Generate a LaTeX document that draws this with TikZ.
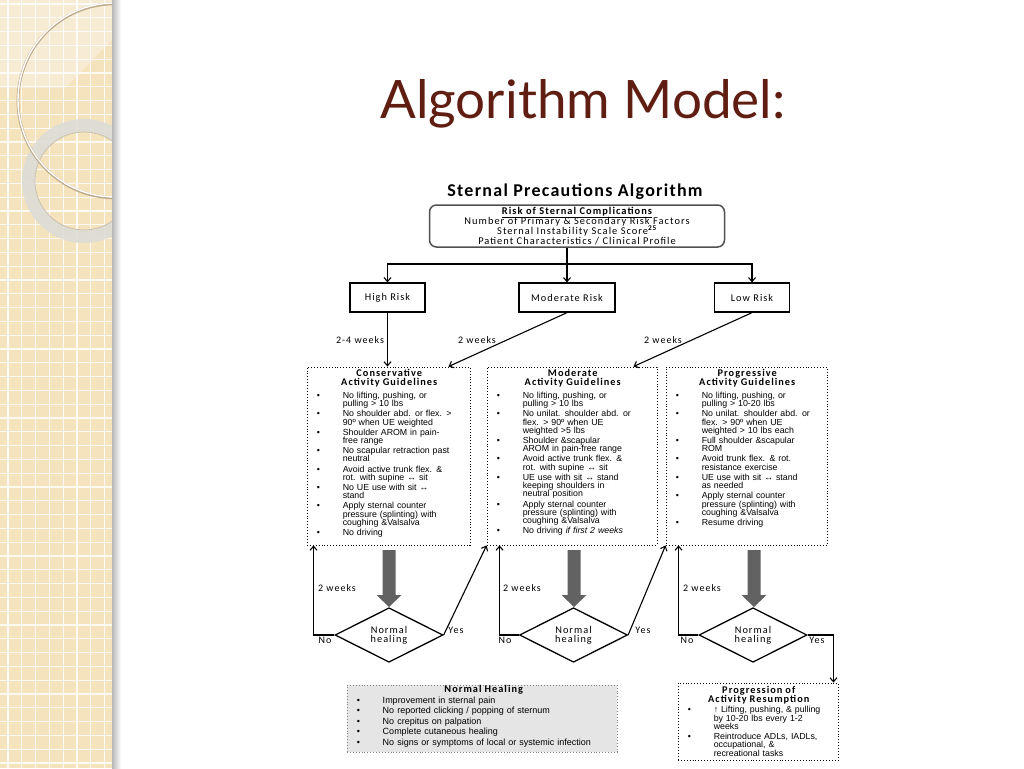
\documentclass[tikz,border=0pt]{standalone}
\usepackage{fontspec}
\setmainfont{Liberation Sans}
\newfontfamily\calf[LetterSpace=10]{Carlito}
\newfontfamily\subf[LetterSpace=7]{Carlito}
\newfontfamily\titlef{Lato}
\usetikzlibrary{shapes.geometric,arrows.meta,calc}
\definecolor{maroon}{RGB}{96,30,18}
\definecolor{strip}{RGB}{244,227,188}
\definecolor{garr}{RGB}{98,98,98}
\definecolor{topborder}{RGB}{80,80,80}
\definecolor{ringtan}{RGB}{190,168,136}
\definecolor{ringgray}{RGB}{222,220,214}
\definecolor{ringedge}{RGB}{200,190,170}
\definecolor{nhborder}{RGB}{130,130,130}
\definecolor{nhfill}{RGB}{229,229,229}
\newcommand\gfont{\fontsize{8.8}{8.3}\selectfont\lineskiplimit=-20pt\relax}
\newcommand\topfont{\calf\fontsize{10.4}{10.1}\selectfont\lineskiplimit=-20pt\relax}
\newcommand\gi[1]{{\let\\\newline\hangindent=30pt\hangafter=1\noindent\makebox[30pt][l]{\hspace{4pt}\textbullet}#1\par}\vspace{1.8pt}}
\newcommand\gtitle[1]{{\centering\calf\bfseries\fontsize{10.3}{9}\selectfont #1\par}\vspace{4.2pt}}
\newcommand\garrow[1]{\fill[garr] (#1-6.5,550) -- (#1+6.5,550) -- (#1+6.5,595) -- (#1+12.5,595) -- (#1,607) -- (#1-12.5,595) -- (#1-6.5,595) -- cycle;}
\tikzset{
  arr/.style={-{Straight Barb[length=4pt,width=7pt]}, line width=1.1pt},
  rbox/.style={draw, line width=1.3pt, minimum width=75pt, minimum height=29pt, inner sep=0pt, font=\calf\fontsize{10.3}{12}\selectfont},
  gbox/.style={draw, dotted, line width=0.9pt, inner sep=0pt},
  gtext/.style={anchor=north west, inner sep=0pt, font=\gfont},
  lab/.style={font=\calf\fontsize{10}{11}\selectfont, inner sep=0pt},
  dia/.style={diamond, draw, line width=1.3pt, inner sep=0pt, minimum width=108pt, minimum height=50pt, align=center, font=\calf\fontsize{10.3}{9}\selectfont},
}
\begin{document}
\begin{tikzpicture}[x=1pt,y=-1pt]
\useasboundingbox (0,0) rectangle (1024,768);
\fill[white] (0,0) rectangle (1024,768);
% left decorative strip
\begin{scope}
\clip (0,0) rectangle (112,768);
\fill[strip] (0,0) rectangle (112,768);
\foreach \i in {0,...,8} {\draw[white, line width=1.3pt, opacity=0.85] (8+13.8*\i,0) -- (8+13.8*\i,768);}
\foreach \j in {0,...,56} {\draw[white, line width=1.3pt, opacity=0.85] (0,4+13.8*\j) -- (112,4+13.8*\j);}
\fill[white, opacity=0.35] (0,0) -- (112,0) -- (112,40) -- (65,88) -- (0,88) -- cycle;
\draw[line width=13pt, ringgray, opacity=0.93] (84,181) circle (55.5);
\draw[line width=0.7pt, ringedge] (84,181) circle (49);
\draw[line width=2.8pt, ringtan] (115,100.8) circle (97);
\draw[line width=1.4pt, white] (115,100) circle (97);
\end{scope}
\shade[left color=black!28, right color=white] (112,0) rectangle (121,768);
% title
\node[font=\titlef\fontsize{53}{60}\selectfont, text=maroon, anchor=base, inner sep=0pt] (title) at (583,118) {Algorithm Model:};
\node[font=\subf\bfseries\fontsize{18}{20}\selectfont, anchor=base, inner sep=0pt] (sub) at (575,196) {Sternal Precautions Algorithm};
% top box
\node[draw=topborder, line width=1.5pt, rounded corners=7pt, minimum width=295pt, minimum height=42pt, inner sep=0pt, align=center, font=\topfont] (top) at (577,226)
 {\textbf{\underline{Risk of Sternal Complications}}\\Number of Primary \& Secondary Risk Factors\\Sternal Instability Scale Score\textsuperscript{\bfseries 25}\\Patient Characteristics / Clinical Profile};
% risk boxes
\node[rbox] (high) at (387.5,297.5) {High Risk};
\node[rbox, minimum width=96pt] (modr) at (567,297.5) {Moderate Risk};
\node[rbox] (low) at (752,297.5) {Low Risk};
\coordinate (bus) at (567,264);
\draw[arr] (top.south -| modr.north) -- (modr.north);
\draw[arr] (bus) -| (high.north);
\draw[arr] (bus) -| (low.north);
% guideline boxes
\node[gbox, minimum width=163pt, minimum height=178pt] (cons) at (388.5,456) {};
\node[gbox, minimum width=170pt, minimum height=178pt] (mod) at (572,456) {};
\node[gbox, minimum width=161pt, minimum height=178pt] (prog) at (746.5,456) {};
\coordinate (c1) at ($(cons.north east)+(-22,0)$);
\coordinate (c2) at ($(mod.north east)+(-24,0)$);
\draw[arr] (high.south) -- (high.south |- cons.north);
\draw[arr] (modr.south) -- (c1);
\draw[arr] (low.south) -- (c2);
\node[lab] (l1) at (360,340) {2-4 weeks};
\node[lab] (l2) at (477,340) {2 weeks};
\node[lab] (l3) at (663,340) {2 weeks};
% guideline texts
\node[gtext, text width=153pt] (cons-t) at ($(cons.north west)+(6,3)$) {\raggedright
\gtitle{Conservative\\Activity Guidelines}
\gi{No lifting, pushing, or\\pulling {>} 10 lbs}
\gi{No shoulder abd. or flex. {>}\\90º when UE weighted}
\gi{Shoulder AROM in pain-\\free range}
\gi{No scapular retraction past\\neutral}
\gi{Avoid active trunk flex. \&\\rot. with supine ↔ sit}
\gi{No UE use with sit ↔\\stand}
\gi{Apply sternal counter\\pressure (splinting) with\\coughing \&Valsalva}
\gi{No driving}};
\node[gtext, text width=160pt] (mod-t) at ($(mod.north west)+(6,3)$) {\raggedright
\gtitle{Moderate\\Activity Guidelines}
\gi{No lifting, pushing, or\\pulling {>} 10 lbs}
\gi{No unilat. shoulder abd. or\\flex. {>} 90º when UE\\weighted {>}5 lbs}
\gi{Shoulder \&scapular\\AROM in pain-free range}
\gi{Avoid active trunk flex. \&\\rot. with supine ↔ sit}
\gi{UE use with sit ↔ stand\\keeping shoulders in\\neutral position}
\gi{Apply sternal counter\\pressure (splinting) with\\coughing \&Valsalva}
\gi{No driving \textit{if first 2 weeks}}};
\node[gtext, text width=151pt] (prog-t) at ($(prog.north west)+(6,3)$) {\raggedright
\gtitle{Progressive\\Activity Guidelines}
\gi{No lifting, pushing, or\\pulling {>} 10-20 lbs}
\gi{No unilat. shoulder abd. or\\flex. {>} 90º when UE\\weighted {>} 10 lbs each}
\gi{Full shoulder \&scapular\\ROM}
\gi{Avoid trunk flex. \& rot.\\resistance exercise}
\gi{UE use with sit ↔ stand\\as needed}
\gi{Apply sternal counter\\pressure (splinting) with\\coughing \&Valsalva}
\gi{Resume driving}};
% big gray arrows
\garrow{389}
\garrow{574}
\garrow{754}
% diamonds
\node[dia] (d1) at (389,635) {Normal\\healing};
\node[dia] (d2) at (573.5,635) {Normal\\healing};
\node[dia] (d3) at (753,635) {Normal\\healing};
\coordinate (n1) at ($(cons.south west)+(7,0)$);
\coordinate (n2) at ($(mod.south west)+(13,0)$);
\coordinate (n3) at ($(prog.south west)+(13,0)$);
\draw[arr] (d1.west) -| (n1);
\draw[arr] (d2.west) -| (n2);
\draw[arr] (d3.west) -| (n3);
\draw[arr] (d1.east) -- (mod.south west);
\draw[arr] (d2.east) -- (prog.south west);
\node[lab] (w1) at (337,588) {2 weeks};
\node[lab] (w2) at (522,588) {2 weeks};
\node[lab] (w3) at (702,588) {2 weeks};
\node[lab] (no1) at (325,640) {No};
\node[lab] (no2) at (505,640) {No};
\node[lab] (no3) at (687,640) {No};
\node[lab] (y1) at (456,630) {Yes};
\node[lab] (y2) at (643,630) {Yes};
\node[lab] (y3) at (817,640) {Yes};
% bottom boxes
\node[draw=nhborder, dotted, line width=0.9pt, fill=nhfill, minimum width=270pt, minimum height=67pt, inner sep=0pt] (nh) at (482,718.5) {};
\node[gtext, text width=262pt, font=\fontsize{9}{10.4}\selectfont] (nh-t) at ($(nh.north west)+(6,0.5)$) {\raggedright\lineskiplimit=-20pt
{\centering\calf\bfseries\fontsize{10.3}{9}\selectfont Normal Healing\par}\vspace{0.6pt}
\gi{Improvement in sternal pain}\vspace{-1.8pt}
\gi{No reported clicking / popping of sternum}\vspace{-1.8pt}
\gi{No crepitus on palpation}\vspace{-1.8pt}
\gi{Complete cutaneous healing}\vspace{-1.8pt}
\gi{No signs or symptoms of local or systemic infection}};
\node[gbox, minimum width=160pt, minimum height=77pt] (pr) at (758,721.5) {};
\coordinate (p1) at ($(pr.north east)+(-5,0)$);
\draw[arr] (d3.east) -| (p1);
\node[gtext, text width=150pt] (pr-t) at ($(pr.north west)+(6,3.5)$) {\raggedright
\gtitle{Progression of\\Activity Resumption}\vspace{-2pt}
\gi{↑ Lifting, pushing, \& pulling\\by 10-20 lbs every 1-2\\weeks}
\gi{Reintroduce ADLs, IADLs,\\occupational, \&\\recreational tasks}};
\end{tikzpicture}
\end{document}
